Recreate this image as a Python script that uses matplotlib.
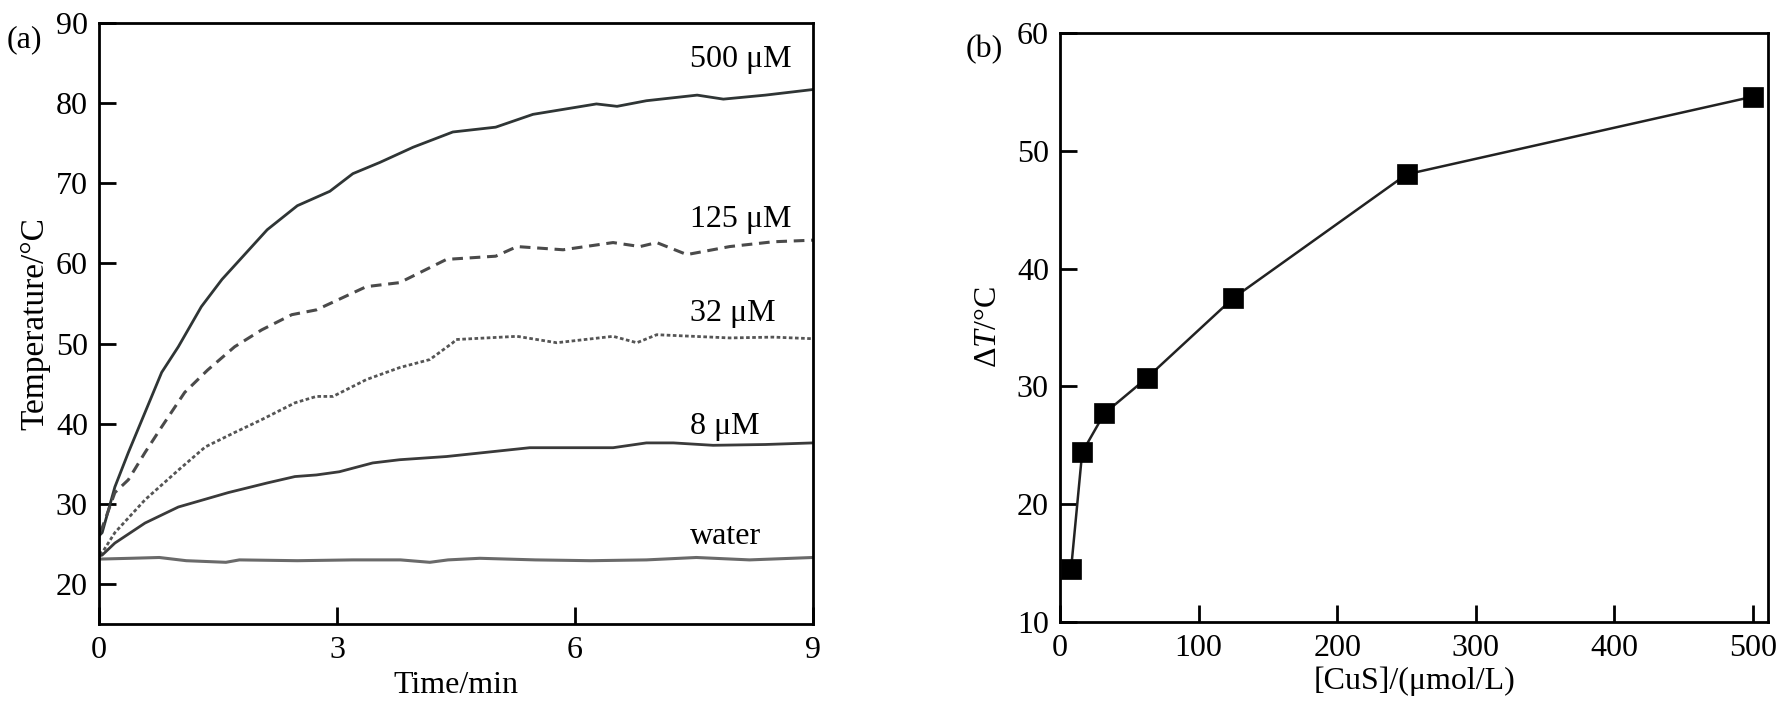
import matplotlib
matplotlib.use("Agg")
import matplotlib.pyplot as plt

plt.rcParams['font.family'] = ['Liberation Serif', 'DejaVu Serif']
plt.rcParams['mathtext.fontset'] = 'custom'
plt.rcParams['mathtext.rm'] = 'Liberation Serif'
plt.rcParams['mathtext.it'] = 'Liberation Serif:italic'

# ---- Panel (a) data: time (min) vs temperature (°C) ----
t_500 = [0, 0.04, 0.2, 0.37, 0.58, 0.79, 1.0, 1.29, 1.55, 2.12, 2.5, 2.91, 3.2, 3.54, 3.96, 4.46, 5.0, 5.47, 6.27, 6.53, 6.9, 7.54, 7.87, 8.4, 9.0]
T_500 = [26.0, 26.4, 32.1, 36.4, 41.4, 46.4, 49.6, 54.6, 58.0, 64.2, 67.2, 69.0, 71.2, 72.6, 74.5, 76.4, 77.0, 78.6, 79.9, 79.6, 80.3, 81.0, 80.5, 81.0, 81.7]

t_125 = [0, 0.04, 0.2, 0.37, 0.58, 0.79, 1.08, 1.37, 1.71, 2.05, 2.43, 2.74, 3.37, 3.79, 4.38, 5.0, 5.27, 5.85, 6.48, 6.82, 7.03, 7.41, 7.95, 8.5, 9.0]
T_125 = [26.5, 27.0, 31.4, 33.0, 36.4, 39.6, 43.9, 46.7, 49.6, 51.7, 53.6, 54.2, 57.1, 57.6, 60.5, 60.9, 62.1, 61.7, 62.6, 62.1, 62.6, 61.1, 62.1, 62.7, 62.9]

t_32 = [0, 0.04, 0.2, 0.58, 1.0, 1.34, 1.71, 2.05, 2.47, 2.74, 2.95, 3.37, 3.79, 4.17, 4.46, 4.5, 5.27, 5.77, 6.48, 6.78, 7.03, 7.95, 8.5, 9.0]
T_32 = [23.9, 23.9, 26.4, 30.5, 34.2, 37.1, 38.9, 40.5, 42.6, 43.4, 43.4, 45.5, 47.0, 48.0, 50.1, 50.5, 50.9, 50.1, 50.9, 50.1, 51.1, 50.7, 50.8, 50.6]

t_8 = [0, 0.04, 0.2, 0.58, 1.0, 1.63, 2.12, 2.47, 2.74, 3.03, 3.45, 3.79, 4.38, 5.43, 6.48, 6.9, 7.24, 7.74, 8.4, 9.0]
T_8 = [23.5, 23.6, 25.1, 27.6, 29.6, 31.4, 32.6, 33.4, 33.6, 34.0, 35.1, 35.5, 35.9, 37.0, 37.0, 37.6, 37.6, 37.3, 37.4, 37.6]

t_w = [0, 0.4, 0.76, 1.1, 1.6, 1.77, 2.5, 3.2, 3.8, 4.17, 4.4, 4.8, 5.5, 6.2, 6.9, 7.53, 8.2, 9.0]
T_w = [23.1, 23.2, 23.3, 22.9, 22.7, 23.0, 22.9, 23.0, 23.0, 22.7, 23.0, 23.2, 23.0, 22.9, 23.0, 23.3, 23.0, 23.3]

labels_a = ["500 μM", "125 μM", "32 μM", "8 μM", "water"]

# ---- Panel (b) data ----
cus_conc = [8, 16, 32, 62.5, 125, 250, 500]
delta_T = [14.5, 24.4, 27.7, 30.7, 37.5, 48.0, 54.6]

fig = plt.figure(figsize=(17.92, 7.22), dpi=100)
FS = 23

# ---------- Panel (a) ----------
ax1 = fig.add_axes([99/1792, 1-624/722, (813-99)/1792, (624-23)/722])
ax1.plot(t_500, T_500, color='#2f3535', lw=2.0, ls='-')
ax1.plot(t_125, T_125, color='#4a4a4a', lw=2.2, ls=(0, (3.5, 2.2)))
ax1.plot(t_32, T_32, color='#555555', lw=2.0, ls=(0, (1.3, 0.9)))
ax1.plot(t_8, T_8, color='#3a3a3a', lw=2.0, ls='-')
ax1.plot(t_w, T_w, color='#6a6a6a', lw=2.2, ls='-')

ax1.set_xlim(0, 9)
ax1.set_ylim(15, 90)
ax1.set_xticks([0, 3, 6, 9])
ax1.set_yticks([20, 30, 40, 50, 60, 70, 80, 90])
ax1.tick_params(direction='in', length=12, width=2, labelsize=FS, pad=8)
ax1.tick_params(axis='x', pad=9)
for s in ax1.spines.values():
    s.set_linewidth(2)
ax1.set_xlabel("Time/min", fontsize=FS, labelpad=4)
ax1.set_ylabel("Temperature/°C", fontsize=FS+1, labelpad=4)

lab_pos = [(7.45, 85.5), (7.45, 65.5), (7.45, 53.7), (7.45, 39.7), (7.45, 25.9)]
for (x, y), lab in zip(lab_pos, labels_a):
    ax1.text(x, y, lab, fontsize=FS, ha='left', va='center')

fig.text(7/1792, 1-40/722, "(a)", fontsize=FS, ha='left', va='center')

# ---------- Panel (b) ----------
ax2 = fig.add_axes([1060/1792, 1-622/722, (1768-1060)/1792, (622-33)/722])
ax2.plot(cus_conc, delta_T, color='#222222', lw=1.8, marker='s', markersize=15,
         markerfacecolor='black', markeredgecolor='black', markeredgewidth=0.5)
ax2.set_xlim(0, 510.8)
ax2.set_ylim(10, 60)
ax2.set_xticks([0, 100, 200, 300, 400, 500])
ax2.set_yticks([10, 20, 30, 40, 50, 60])
ax2.tick_params(direction='in', length=12, width=2, labelsize=FS, pad=8)
ax2.tick_params(axis='x', pad=9)
for s in ax2.spines.values():
    s.set_linewidth(2)
ax2.set_xlabel("[CuS]/(μmol/L)", fontsize=FS, labelpad=2)
ax2.set_ylabel(r"Δ$\mathit{T}$/°C", fontsize=FS, labelpad=10)

fig.text(966/1792, 1-50/722, "(b)", fontsize=FS, ha='left', va='center')

fig.savefig("out.png", dpi=100)
